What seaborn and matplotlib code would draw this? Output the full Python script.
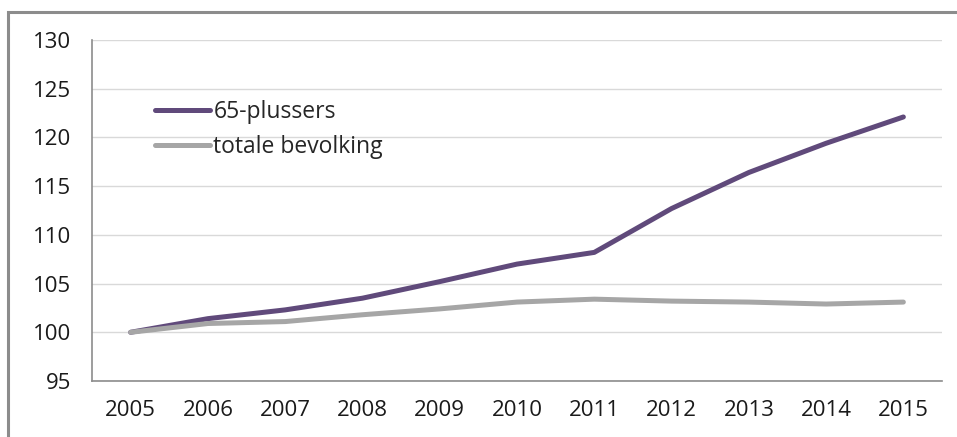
import matplotlib
matplotlib.use("Agg")
import matplotlib.pyplot as plt
import matplotlib.patches as patches
import pandas as pd
import seaborn as sns

years = ["2005", "2006", "2007", "2008", "2009", "2010", "2011", "2012", "2013", "2014", "2015"]
plus65 = [100.0, 101.4, 102.3, 103.5, 105.2, 107.0, 108.2, 112.7, 116.4, 119.4, 122.1]
total = [100.0, 100.9, 101.1, 101.8, 102.4, 103.1, 103.4, 103.2, 103.1, 102.9, 103.1]
series_names = ["65-plussers", "totale bevolking"]

df = pd.DataFrame({
    "pos": list(range(len(years))) * 2,
    "value": plus65 + total,
    "series": [series_names[0]] * len(years) + [series_names[1]] * len(years),
})

sns.set_style("white")
plt.rcParams["font.family"] = ["Open Sans", "DejaVu Sans"]

fig = plt.figure(figsize=(9.57, 4.37), dpi=100)
ax = fig.add_axes([92 / 957, 1 - 381 / 437, (942 - 92) / 957, (381 - 40) / 437])

sns.lineplot(data=df, x="pos", y="value", hue="series",
             palette={series_names[0]: "#604A7B", series_names[1]: "#A6A6A6"},
             linewidth=3.6, ax=ax)

ax.set_xlim(-0.5, len(years) - 0.5)
ax.set_ylim(95, 130)
ax.set_yticks(range(95, 131, 5))
ax.set_xticks(range(len(years)))
ax.set_xticklabels(years)
ax.set_xticks([i - 0.5 for i in range(len(years) + 1)], minor=True)
ax.tick_params(axis="x", which="major", length=0, pad=14, labelsize=16, colors="#1a1a1a")
ax.tick_params(axis="x", which="minor", length=7, width=1.2, color="#8C8C8C", direction="out")
ax.tick_params(axis="y", length=7, width=1.2, color="#8C8C8C", direction="out",
               pad=8, labelsize=16, labelcolor="#1a1a1a")
ax.grid(axis="y", color="#D9D9D9", linewidth=1)
ax.set_xlabel("")
ax.set_ylabel("")
for side in ["top", "right"]:
    ax.spines[side].set_visible(False)
for side in ["left", "bottom"]:
    ax.spines[side].set_color("#8C8C8C")
    ax.spines[side].set_linewidth(1.2)

ax.legend(loc="upper left", bbox_to_anchor=(0.074, 0.823), frameon=False,
          borderpad=0, borderaxespad=0,
          fontsize=16.5, handlelength=2.4, handletextpad=0.15, labelspacing=0.48,
          title=None)

# outer chart border from the screenshot
fig.patches.append(patches.Rectangle((8 / 957, -0.1), 1.2, 1.1 - 12 / 437, transform=fig.transFigure,
                                     fill=False, edgecolor="#8C8C8C", linewidth=2.2))

fig.savefig("out.png", dpi=100)
